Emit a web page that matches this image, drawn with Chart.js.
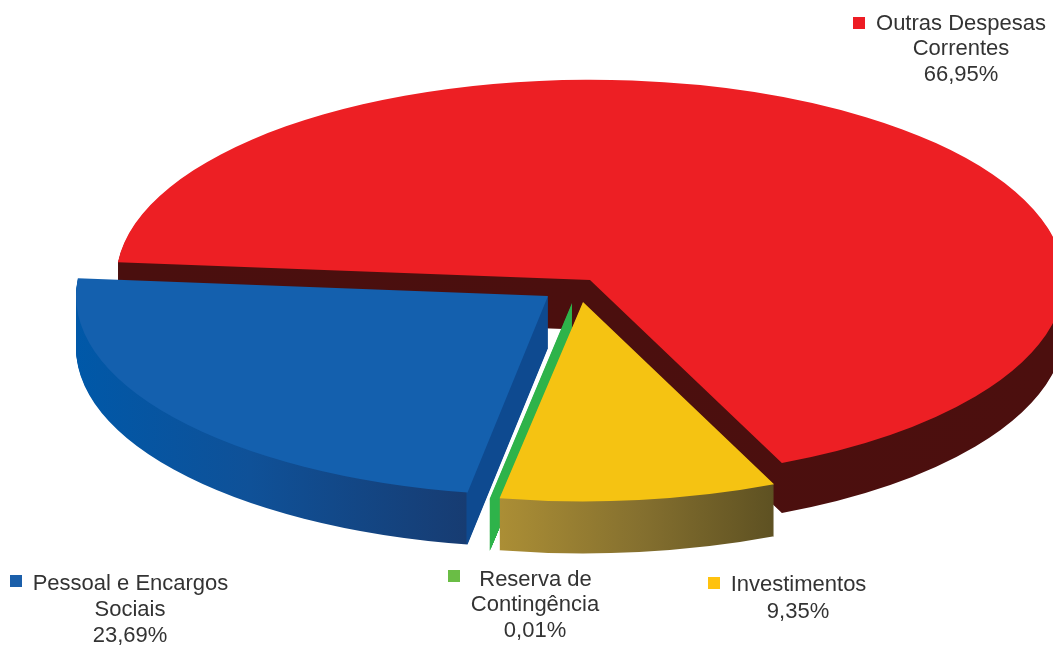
<!DOCTYPE html>
<html>
<head>
<meta charset="utf-8">
<style>html,body{margin:0;padding:0;background:#fff;overflow:hidden}canvas{display:block}</style>
<script src="https://cdn.jsdelivr.net/npm/chart.js@4"></script>
</head>
<body>
<canvas id="c" width="1053" height="646"></canvas>
<script>
// ---- data ----
const categories = ['Outras Despesas Correntes', 'Investimentos', 'Reserva de Contingência', 'Pessoal e Encargos Sociais'];
const values = [66.95, 9.35, 0.01, 23.69];
const labelLines = [
  ['Outras Despesas', 'Correntes', '66,95%'],
  ['Investimentos', '9,35%'],
  ['Reserva de', 'Contingência', '0,01%'],
  ['Pessoal e Encargos', 'Sociais', '23,69%']
];

// ---- styling ----
const topColors = ['#ED1F24', '#F5C312', '#2EB34A', '#1460AE'];
const swatchColors = ['#ED1C24', '#FFC20E', '#6ABD45', '#1B5FAA'];
const TILT = 0.4225;
const rad = d => d * Math.PI / 180;
// explode (px on screen), extrusion depth, side gradient stops [screen x, colour]
const sliceStyle = [
  {dx: 0, dy: 0, depth: 50, grow: 2, side: [[118, '#4A0F0E'], [1053, '#4C0F0E']]},
  {dx: -7, dy: 22, depth: 52, endShift: rad(0.4), side: [[500, '#AB8E35'], [640, '#85702F'], [773, '#5E5122']]},
  {dx: -18, dy: 23, depth: 52, endShift: rad(0.25), side: [[480, '#2EB34A'], [580, '#2EB34A']], topSweep: rad(10), sideSweep: rad(2.6), taper: true},
  {dx: -42, dy: 16, depth: 52, side: [[76, '#0058A8'], [250, '#0F5198'], [466, '#173C72'], [467, '#0E4A90'], [548, '#0E4A90']]}
];
const drawOrder = [0, 3, 2, 1];
// label layout: swatch x,y then per-line [centre x, centre y]
const labelLayout = [
  {sw: [853, 17], lines: [[961, 24], [961, 49], [961, 75]]},
  {sw: [708, 577], lines: [[798.5, 585], [798, 612]]},
  {sw: [448, 570], lines: [[535.5, 580], [535, 605], [535, 631]]},
  {sw: [10, 575], lines: [[130.5, 584], [130, 610], [130, 636]]}
];

const extrudedPie = {
  id: 'extrudedPie',
  beforeDatasetDraw(chart, args) {
    const ctx = chart.ctx, arcs = args.meta.data;
    drawOrder.forEach(idx => {
      const arc = arcs[idx], st = sliceStyle[idx];
      const cx = arc.x, cy = arc.y;
      const grad = ctx.createLinearGradient(st.side[0][0] - st.dx, 0, st.side[st.side.length - 1][0] - st.dx, 0);
      const x0 = st.side[0][0], x1 = st.side[st.side.length - 1][0];
      st.side.forEach(s => grad.addColorStop((s[0] - x0) / (x1 - x0), s[1]));
      const place = off => {
        ctx.save();
        ctx.translate(cx + st.dx, cy + st.dy + off);
        ctx.scale(1, TILT);
        ctx.translate(-cx, -cy);
      };
      const ghost = (color, sweep) => {
        const g = Object.create(arc);
        g.options = Object.assign({}, arc.options, {backgroundColor: color});
        g.endAngle = arc.endAngle + (st.endShift || 0);
        g.outerRadius = arc.outerRadius + (st.grow || 0);
        if (sweep !== undefined) {
          g.startAngle = g.endAngle - sweep;
          g.circumference = sweep;
        } else {
          g.circumference = g.endAngle - arc.startAngle;
        }
        return g;
      };
      for (let i = st.depth; i >= 1; i--) {
        const sweep = st.taper ? st.sideSweep * (1 - i / st.depth) + 1e-4 : undefined;
        place(i);
        ghost(grad, sweep).draw(ctx);
        ctx.restore();
      }
      place(0);
      ghost(topColors[idx], st.topSweep).draw(ctx);
      ctx.restore();
    });
    return false;
  },
  afterDraw(chart) {
    const ctx = chart.ctx;
    ctx.save();
    ctx.font = '22px "Liberation Sans", Arial, sans-serif';
    ctx.fillStyle = '#333333';
    ctx.textAlign = 'center';
    ctx.textBaseline = 'middle';
    labelLines.forEach((lines, i) => {
      const l = labelLayout[i];
      lines.forEach((t, j) => ctx.fillText(t, l.lines[j][0], l.lines[j][1]));
    });
    labelLayout.forEach((l, i) => {
      ctx.fillStyle = swatchColors[i];
      ctx.fillRect(l.sw[0], l.sw[1], 12, 12);
    });
    ctx.restore();
  }
};

new Chart(document.getElementById('c'), {
  type: 'pie',
  data: {
    labels: categories,
    datasets: [{data: values, backgroundColor: topColors, borderWidth: 0}]
  },
  options: {
    responsive: false,
    animation: false,
    rotation: 275.1,
    radius: 472,
    layout: {padding: {left: 127, bottom: 86}},
    plugins: {legend: {display: false}, tooltip: {enabled: false}}
  },
  plugins: [extrudedPie]
});
</script>
</body>
</html>
